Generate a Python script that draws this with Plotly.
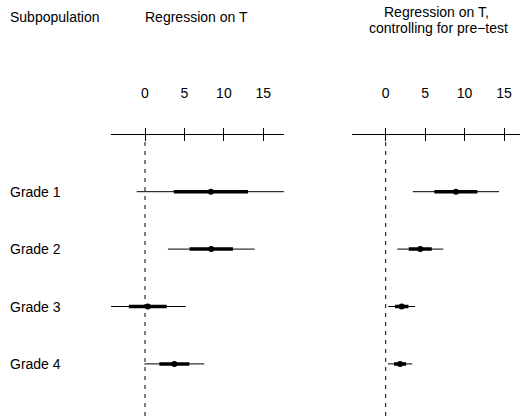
import plotly.graph_objects as go

grades = ["Grade 1", "Grade 2", "Grade 3", "Grade 4"]
# Regression on T
est_T = [8.35, 8.4, 0.35, 3.72]
se_T = [4.7, 2.75, 2.4, 1.9]
# Regression on T, controlling for pre-test
est_P = [8.9, 4.38, 2.03, 1.82]
se_P = [2.73, 1.46, 0.85, 0.77]
tick_vals = [0, 5, 10, 15]

W, H = 520, 416
FONT = "Liberation Sans, Arial, sans-serif"

fig = go.Figure()

def add_panel(est, se, xa):
    xs2, ys2, xs1, ys1 = [], [], [], []
    for g, e, s in zip(grades, est, se):
        xs2 += [e - 2 * s, e + 2 * s, None]
        ys2 += [g, g, None]
        xs1 += [e - s, e + s, None]
        ys1 += [g, g, None]
    fig.add_trace(go.Scatter(x=xs2, y=ys2, mode="lines", xaxis=xa, yaxis="y",
                             line=dict(color="black", width=1), showlegend=False, hoverinfo="skip"))
    fig.add_trace(go.Scatter(x=xs1, y=ys1, mode="lines", xaxis=xa, yaxis="y",
                             line=dict(color="black", width=3.5), showlegend=False, hoverinfo="skip"))
    fig.add_trace(go.Scatter(x=est, y=grades, mode="markers", xaxis=xa, yaxis="y",
                             marker=dict(color="black", size=6), showlegend=False, hoverinfo="skip"))

add_panel(est_T, se_T, "x")
add_panel(est_P, se_P, "x2")

sc = 7.89
axis_y = 1 - 134 / H
left_range = [-4.3, 17.6]
right_range = [-4.3, (W - 385.7) / sc]
left_dom = [(145 + left_range[0] * sc) / W, (145 + left_range[1] * sc) / W]
right_dom = [(385.7 + right_range[0] * sc) / W, 1.0]

common = dict(tickvals=tick_vals, showgrid=False, zeroline=False, anchor="free",
              position=axis_y, linecolor="black", linewidth=1, tickcolor="black",
              ticklen=6, tickwidth=1, tickfont=dict(family=FONT, size=14, color="black"))

fig.update_layout(
    xaxis=dict(domain=left_dom, range=left_range, side="top", showline=True, ticks="outside",
               ticklabelstandoff=24, **common),
    xaxis2=dict(domain=right_dom, range=right_range, side="top", showline=True, ticks="outside",
                ticklabelstandoff=24, **common),
    xaxis3=dict(domain=left_dom, range=left_range, side="bottom", showline=False, ticks="outside",
                showticklabels=False, overlaying="x", **common),
    xaxis4=dict(domain=right_dom, range=right_range, side="bottom", showline=False, ticks="outside",
                showticklabels=False, overlaying="x2", **common),
    yaxis=dict(type="category", categoryarray=grades, categoryorder="array",
               range=[(H - 191.7) / 57.4, (0 - 191.7) / 57.4], domain=[0, 1],
               showgrid=False, zeroline=False, showticklabels=False, showline=False, ticks=""),
    width=W, height=H, margin=dict(l=0, r=0, t=0, b=0),
    plot_bgcolor="white", paper_bgcolor="white",
    font=dict(family=FONT, size=14, color="black"),
)
fig.add_trace(go.Scatter(x=[None], y=[None], xaxis="x3", yaxis="y", showlegend=False))
fig.add_trace(go.Scatter(x=[None], y=[None], xaxis="x4", yaxis="y", showlegend=False))

for xr in ["x", "x2"]:
    fig.add_shape(type="line", xref=xr, yref="paper", x0=0, x1=0, y0=0, y1=1 - 141 / H,
                  line=dict(color="black", width=1, dash="4px,5px"))

def txt(s, xpx, ypx, anchor="center"):
    fig.add_annotation(text=s, x=xpx / W, y=1 - ypx / H, xref="paper", yref="paper",
                       xanchor=anchor, yanchor="middle", showarrow=False,
                       font=dict(family=FONT, size=14, color="black"))

txt("Subpopulation", 8, 17, "left")
txt("Regression on T", 196.5, 17)
txt("Regression on T,", 436, 12)
txt("controlling for pre\u2212test", 438, 28)

for g in grades:
    fig.add_annotation(text=g, x=8 / W, y=g, xref="paper", yref="y", xanchor="left",
                       yanchor="middle", showarrow=False,
                       font=dict(family=FONT, size=14, color="black"))

fig.write_html("out.html", config={"displayModeBar": False},
               post_script="document.body.style.margin='0';document.body.style.overflow='hidden';")
